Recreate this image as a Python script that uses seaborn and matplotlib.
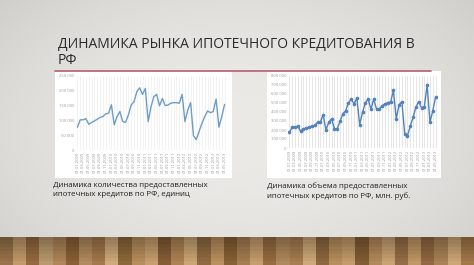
import numpy as np
import pandas as pd
import matplotlib
matplotlib.use("Agg")
import matplotlib.pyplot as plt
import seaborn as sns
from matplotlib.ticker import FuncFormatter
from matplotlib.patches import Rectangle
from matplotlib.lines import Line2D

# ---------------- data ----------------
title = "ДИНАМИКА РЫНКА ИПОТЕЧНОГО КРЕДИТОВАНИЯ В\nРФ"
caption_left = "Динамика количества предоставленных\nипотечных кредитов по РФ, единиц"
caption_right = "Динамика объема предоставленных\nипотечных кредитов по РФ, млн. руб."

months = [f"01.{m:02d}.{y}" for y in range(2009, 2014) for m in range(1, 13)][:53]

count_values = [77, 102, 102, 106, 87, 93, 98, 104, 110, 113, 122, 124, 153,
                85, 113, 130, 96, 93, 118, 152, 163, 197, 210, 188, 208, 96,
                146, 180, 188, 149, 174, 150, 152, 158, 160, 160, 158, 188, 96,
                135, 160, 48, 35, 63, 90, 113, 132, 126, 130, 172, 77, 113, 154]
count_values = [v * 1000 for v in count_values]

volume_values = [175, 230, 230, 245, 185, 215, 220, 230, 240, 250, 285, 285,
                 370, 200, 285, 325, 215, 215, 295, 380, 415, 500, 545, 490,
                 555, 260, 395, 500, 545, 430, 545, 430, 435, 470, 490, 505,
                 510, 640, 320, 480, 515, 160, 135, 245, 340, 455, 515, 445,
                 460, 700, 285, 415, 565]
volume_values = [v * 1000 for v in volume_values]

left_yticks = [0, 50000, 100000, 150000, 200000, 250000]
right_yticks = [0, 100000, 200000, 300000, 400000, 500000, 600000, 700000, 800000]

wood_shades = ["#a57c50", "#c29a6a", "#94693f", "#caa476", "#b08558", "#8a6036",
               "#bf9564", "#a3784a", "#d0aa7a", "#98703f", "#b88d5c", "#c79e6d",
               "#8f653a", "#ae8353", "#cca573", "#9d7345", "#bb905f", "#876034",
               "#b28757", "#c69d6c", "#976c40", "#bd9362", "#a87d4f", "#cfa979",
               "#9a7043", "#b98e5e", "#c49b6a", "#8d6439", "#b4895a", "#caa373",
               "#a0764a", "#c09766", "#916840", "#b78c5c", "#cda676", "#a27849"]

# ---------------- figure ----------------
sns.set_theme(style="white")
plt.rcParams['font.family'] = ['Open Sans', 'DejaVu Sans']

W, H = 474, 265
fig = plt.figure(figsize=(W / 100, H / 100), dpi=100)

def fx(px):
    return px / W

def fy(py):
    return 1 - py / H

# background gradient
bg = fig.add_axes([0, 0, 1, 1], zorder=-10)
yy, xx = np.mgrid[0:1:200j, 0:1:300j]
r = np.sqrt(((xx - 0.5) / 0.7) ** 2 + ((yy - 0.5) / 0.8) ** 2)
shade = 0.925 - 0.12 * r ** 2
bg.imshow(np.dstack([shade, shade * 0.992, shade * 0.975]).clip(0, 1),
          extent=[0, 1, 0, 1], aspect='auto', origin='upper')
bg.set_xlim(0, 1); bg.set_ylim(0, 1); bg.axis('off')

# wooden floor
floor = fig.add_axes([0, 0, 1, fy(237)], zorder=-9)
rgb = np.array([matplotlib.colors.to_rgb(c) for c in wood_shades])
rows = np.linspace(0.72, 1.0, 8)
tex = np.stack([rgb * f for f in rows], axis=0)
tex[:, ::3] = tex[:, ::3] * 0.93
floor.imshow(tex.clip(0, 1), aspect='auto', interpolation='nearest',
             extent=[0, 1, 0, 1], origin='upper')
floor.axis('off')

# white panels
for x0, x1 in [(55, 232), (267, 441)]:
    fig.patches.append(Rectangle((fx(x0), fy(178)), fx(x1) - fx(x0), fy(71) - fy(178),
                                 transform=fig.transFigure, facecolor="white",
                                 edgecolor="none", zorder=-5))
fig.lines.append(Line2D([fx(55), fx(431)], [fy(71), fy(71)], transform=fig.transFigure,
                        color="#b86a7a", lw=1.3))

fig.text(fx(58), fy(37), title, ha="left", va="top", fontsize=10.0,
         color="#2a2a2a", linespacing=1.1)
fig.text(fx(53), fy(182), caption_left, ha="left", va="top", fontsize=5.7,
         color="#222222", linespacing=1.4)
fig.text(fx(267), fy(182), caption_right, ha="left", va="top", fontsize=5.7,
         color="#222222", linespacing=1.4)

fmt = FuncFormatter(lambda v, p: "0" if v == 0 else f"{int(v):,}".replace(",", " "))

def make_chart(rect, values, yticks, color, marker, gridcolor):
    ax = fig.add_axes(rect)
    df = pd.DataFrame({"idx": np.arange(len(values)), "value": values})
    sns.lineplot(data=df, x="idx", y="value", ax=ax, color=color, lw=1.0,
                 marker=marker, markersize=2.6, markeredgewidth=0, zorder=3)
    ax.set_xlim(-0.5, len(values) - 0.5)
    ax.set_ylim(yticks[0], yticks[-1])
    ax.set_yticks(yticks)
    ax.yaxis.set_major_formatter(fmt)
    pos = np.arange(0, len(values), 2)
    ax.set_xticks(pos)
    ax.set_xticklabels([months[i] for i in pos], rotation=90)
    for i in range(len(values)):
        ax.axvline(i, color=gridcolor, lw=0.5, zorder=1)
    ax.tick_params(axis='both', labelsize=3.0, colors="#9a9a9a", length=0, pad=1.5)
    ax.set_xlabel(""); ax.set_ylabel("")
    ax.set_facecolor("none")
    for s in ax.spines.values():
        s.set_visible(False)
    return ax

make_chart([fx(76), fy(150), fx(226) - fx(76), fy(76) - fy(150)], count_values,
           left_yticks, "#6d9cc6", None, "#efefef")
make_chart([fx(288), fy(148), fx(437) - fx(288), fy(76) - fy(148)], volume_values,
           right_yticks, "#5282ba", "o", "#dcdcdc")

fig.savefig("out.png", dpi=100)
